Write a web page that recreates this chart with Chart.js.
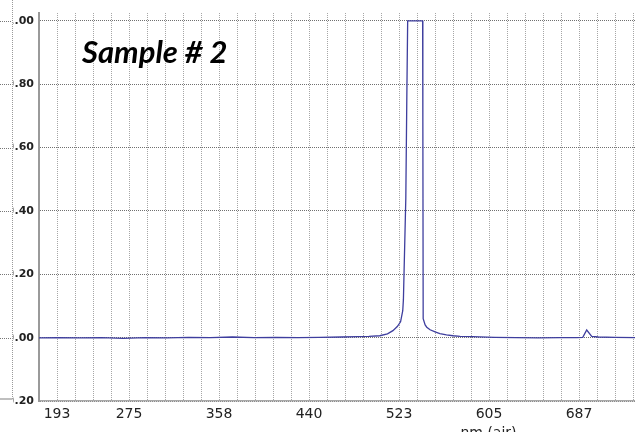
<!DOCTYPE html>
<html><head><meta charset="utf-8">
<script src="https://cdn.jsdelivr.net/npm/chart.js@4"></script>
<style>
html,body{margin:0;padding:0;overflow:hidden;background:#fff;width:635px;height:432px}
#wrap{position:absolute;left:0;top:0;width:960px;height:446px}
</style></head>
<body><div id="wrap"><canvas id="c" width="960" height="446"></canvas></div>
<script>
// Spectrum (nm, relative intensity)
const wavelengths = [193,210,230,250,270,290,310,330,350,370,390,410,430,450,470,485,495,505,512,517,521,524,526,526.6,528.8,529.7,530.5,544.2,544.4,544.7,546.5,548,551,555.6,560,566,572,578.5,590,610,630,650,670,685,690.8,694.4,699,705,720,740,760];
const intensity   = [-0.001,0.000,-0.001,0.000,-0.002,0.000,-0.001,0.001,0.000,0.002,0.000,0.001,0.000,0.001,0.002,0.003,0.004,0.006,0.012,0.022,0.035,0.050,0.085,0.12,0.44,0.75,1.0,1.0,0.69,0.06,0.04,0.033,0.025,0.018,0.013,0.009,0.006,0.004,0.003,0.001,0.000,-0.001,0.000,0.000,0.001,0.024,0.004,0.002,0.001,0.000,0.001];

const yTickValues = [-0.2,0.0,0.2,0.4,0.6,0.8,1.0];
const xMin = 193, xMax = 1016, xGridStep = 16.48;
const xTickLabels = ['193','275','358','440','523','605','687'];
const xTickLabelGrid = [1,5,10,15,20,25,30];
const sampleLabel = 'Sample # 2';
const xTitle = 'nm (air)';

const overlay = {
  id:'overlay',
  afterDraw(chart){
    const ctx = chart.ctx, ca = chart.chartArea, ys = chart.scales.y;
    ctx.save();
    // neighbouring panel covering the left edge
    ctx.fillStyle = '#fff';
    ctx.fillRect(0,0,13.5,chart.height);
    ctx.strokeStyle = '#9a9a9a'; ctx.lineWidth = 1; ctx.setLineDash([1,1]);
    ctx.beginPath(); ctx.moveTo(12.5,0); ctx.lineTo(12.5,ca.bottom-2); ctx.stroke();
    ctx.strokeStyle = '#777';
    yTickValues.slice(1).forEach(v=>{
      const y = Math.round(ys.getPixelForValue(v))+0.5;
      ctx.beginPath(); ctx.moveTo(0,y); ctx.lineTo(12,y); ctx.stroke();
    });
    ctx.setLineDash([]); ctx.strokeStyle = '#aaa'; ctx.lineWidth = 1.5;
    ctx.beginPath(); ctx.moveTo(0,ca.bottom-2); ctx.lineTo(12.5,ca.bottom-2); ctx.stroke();
    // sample label
    ctx.fillStyle = '#000';
    ctx.font = 'italic bold 31px Lato';
    ctx.textBaseline = 'alphabetic';
    ctx.fillText(sampleLabel, ca.left+43, ca.top+50);
    ctx.restore();
  }
};

new Chart(document.getElementById('c').getContext('2d'), {
  type:'line',
  data:{datasets:[{
    data: wavelengths.map((w,i)=>({x:w,y:intensity[i]})),
    borderColor:'#3e3e9e', borderWidth:1.3, pointRadius:0, tension:0, fill:false
  }]},
  options:{
    responsive:false, animation:false, devicePixelRatio:1,
    layout:{padding:{top:13,right:22,left:0,bottom:0}},
    plugins:{legend:{display:false}, tooltip:{enabled:false}},
    scales:{
      x:{
        type:'linear', min:xMin, max:xMax,
        afterBuildTicks:s=>{ const t=[]; for(let k=0; xMin+k*xGridStep<=xMax+0.01; k++) t.push({value:xMin+k*xGridStep}); s.ticks=t; },
        afterFit:s=>{ s.height = 45; },
        grid:{color:'#a6a6a6', lineWidth:1, drawTicks:false},
        border:{display:true, color:'#a8a8a8', width:1.5, dash:[1,1]},
        ticks:{autoSkip:false, maxRotation:0, padding:5, color:'#222',
          font:{family:'DejaVu Sans', size:14},
          callback:(v,i)=>{ const j = xTickLabelGrid.indexOf(i); return j>=0 ? xTickLabels[j] : ''; }},
        title:{display:true, text:xTitle, color:'#222', font:{family:'DejaVu Sans', size:14}, padding:{top:0,bottom:4}}
      },
      y:{
        min:-0.2, max:1.025,
        afterBuildTicks:s=>{ s.ticks = yTickValues.map(v=>({value:v})); },
        afterFit:s=>{ s.width = 39; },
        grid:{color:'#707070', lineWidth:1, drawTicks:false},
        border:{display:true, color:'#9a9a9a', width:2, dash:[1,1]},
        ticks:{padding:5, color:'#222', font:{family:'DejaVu Sans', size:11, weight:'bold'},
          callback:v=>v.toFixed(2)}
      }
    }
  },
  plugins:[overlay]
});
</script>
</body></html>
